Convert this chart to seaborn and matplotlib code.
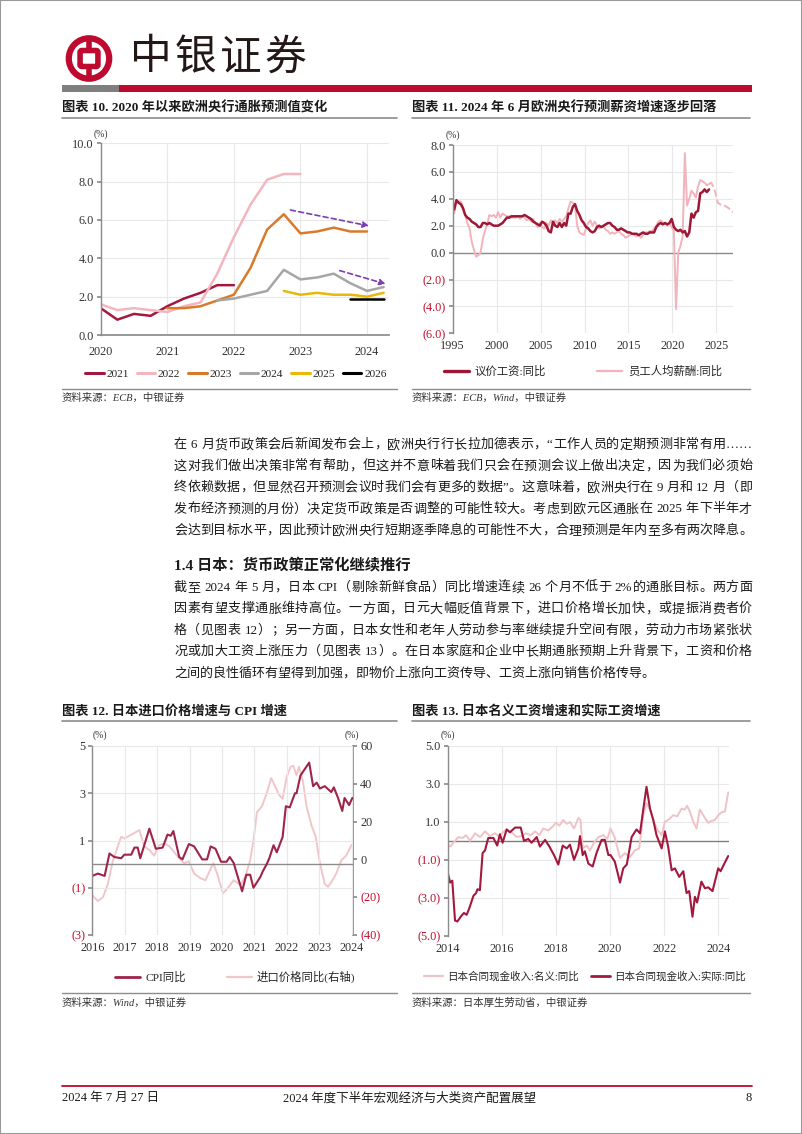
import re
import numpy as np
import matplotlib
matplotlib.use('Agg')
import matplotlib.pyplot as plt
import seaborn as sns
from matplotlib.patches import Rectangle, Circle, FancyBboxPatch
from matplotlib.lines import Line2D

nan = np.nan

# ---------------- DATA ----------------
# Chart 10: ECB inflation projections, by projection round
proj_dates = [2020.0, 2020.25, 2020.5, 2020.75, 2021.0, 2021.25, 2021.5, 2021.75, 2022.0,
              2022.25, 2022.5, 2022.75, 2023.0, 2023.25, 2023.5, 2023.75, 2024.0, 2024.25]
f2021 = [1.4, 0.8, 1.1, 1.0, 1.5, 1.9, 2.2, 2.6, 2.6, nan, nan, nan, nan, nan, nan, nan, nan, nan]
f2022 = [1.6, 1.3, 1.4, 1.3, 1.2, 1.5, 1.7, 3.2, 5.1, 6.8, 8.1, 8.4, 8.4, nan, nan, nan, nan, nan]
f2023 = [nan, nan, nan, nan, 1.4, 1.4, 1.5, 1.8, 2.1, 3.5, 5.5, 6.3, 5.3, 5.4, 5.6, 5.4, 5.4, nan]
f2024 = [nan, nan, nan, nan, nan, nan, nan, 1.8, 1.9, 2.1, 2.3, 3.4, 2.9, 3.0, 3.2, 2.7, 2.3, 2.5]
f2025 = [nan, nan, nan, nan, nan, nan, nan, nan, nan, nan, nan, 2.3, 2.1, 2.2, 2.1, 2.1, 2.0, 2.2]
f2026 = [nan, nan, nan, nan, nan, nan, nan, nan, nan, nan, nan, nan, nan, nan, nan, 1.9, 1.9, 1.9]
series10 = ['2021', '2022', '2023', '2024', '2025', '2026']
arrow1 = [(2022.85, 6.52), (2024.03, 5.69)]
arrow2 = [(2023.59, 3.36), (2024.28, 2.66)]

# Chart 11: euro area wages, quarterly from 1995Q1
negotiated = [3.2, 3.9, 3.7, 3.6, 3.3, 2.8, 2.6, 2.5, 2.3, 2.2, 2.1, 1.9, 1.9, 2.2, 2.2, 2.1,
              2.2, 2.1, 2.0, 2.0, 2.0, 2.1, 2.2, 2.4, 2.6, 2.6, 2.7, 2.7, 2.7, 2.7, 2.7, 2.7,
              2.8, 2.7, 2.6, 2.5, 2.3, 2.2, 2.1, 2.0, 2.3, 2.2, 2.0, 1.6, 1.5, 2.3, 2.0, 1.9,
              2.2, 1.9, 2.2, 2.0, 2.9, 2.9, 3.4, 3.6, 3.1, 2.8, 2.4, 2.2, 1.9, 1.8, 1.6, 1.5,
              1.6, 1.9, 2.0, 1.9, 2.0, 2.1, 2.2, 2.2, 2.0, 1.9, 1.7, 1.7, 1.8, 1.7, 1.6, 1.5,
              1.5, 1.4, 1.4, 1.4, 1.3, 1.4, 1.5, 1.4, 1.4, 1.5, 1.5, 1.5, 1.9, 2.1, 2.2, 2.1,
              2.2, 2.1, 2.2, 2.5, 1.9, 1.7, 1.6, 1.7, 1.5, 1.6, 1.2, 1.5, 2.9, 2.6, 3.0, 3.1,
              4.4, 4.5, 4.7, 4.5, 4.7]
comp_per_emp = [2.9, 3.9, 3.8, 3.8, 3.4, 2.8, 2.2, 1.8, 0.8, 0.2, -0.3, -0.2, 0.0, 1.0, 1.6, 2.1,
                2.8, 2.7, 2.8, 2.6, 3.0, 2.6, 2.9, 2.8, 2.7, 2.7, 2.6, 2.6, 2.6, 2.7, 2.5, 2.7,
                2.6, 2.4, 2.5, 2.3, 2.5, 2.2, 1.9, 2.2, 1.9, 1.8, 2.2, 2.0, 2.4, 2.2, 2.4, 2.2,
                2.5, 2.3, 2.5, 2.7, 3.3, 3.8, 3.7, 3.5, 2.0, 1.5, 1.4, 1.3, 1.8, 2.2, 2.4, 2.0,
                2.3, 2.0, 1.8, 1.9, 1.9, 1.7, 1.6, 1.4, 1.5, 1.4, 1.5, 1.6, 1.4, 1.3, 1.1, 1.2,
                1.3, 1.4, 1.3, 1.2, 1.3, 1.1, 1.3, 1.5, 1.5, 1.6, 1.6, 1.8, 2.0, 2.3, 2.4, 2.2,
                2.2, 2.0, 2.2, 1.9, 1.6, -4.2, 0.0, 0.5, 1.2, 7.4, 3.5, 4.0, 4.6, 4.4, 4.1, 4.9,
                5.4, 5.3, 5.2, 5.0, 5.1]
comp_proj_dates = [2024.17, 2024.42, 2024.67, 2024.92, 2025.17, 2025.42, 2025.67, 2025.92,
                   2026.17, 2026.42, 2026.67, 2026.92]
comp_proj = [5.1, 5.2, 4.9, 4.4, 3.7, 3.6, 3.5, 3.5, 3.4, 3.3, 3.1, 3.0]

# Chart 12: Japan CPI and import prices
cpi_t = [2016.0, 2016.17, 2016.38, 2016.53, 2016.68, 2016.89, 2016.99, 2017.2, 2017.3, 2017.4,
         2017.48, 2017.76, 2017.96, 2018.17, 2018.32, 2018.42, 2018.5, 2018.68, 2018.78, 2018.98,
         2019.14, 2019.39, 2019.54, 2019.65, 2019.8, 2019.97, 2020.14, 2020.24, 2020.36, 2020.62,
         2020.75, 2020.87, 2020.97, 2021.18, 2021.26, 2021.38, 2021.46, 2021.59, 2021.69, 2021.87,
         2021.97, 2022.09, 2022.25, 2022.3, 2022.42, 2022.69, 2022.81, 2022.92, 2023.02, 2023.17,
         2023.37, 2023.45, 2023.58, 2023.71, 2023.78, 2023.92, 2024.02]
cpi_v = [-0.5, -0.4, -0.5, 0.45, 0.3, 0.25, 0.4, 0.4, 0.7, 0.7, 0.25, 1.5, 0.65, 0.7, 1.25, 1.2,
         1.4, 0.3, 0.2, 0.85, 0.75, 0.2, 0.2, 0.75, 0.65, 0.1, 0.1, 0.3, 0.05, -1.15, -0.45, -0.45,
         -1.0, -0.55, -0.3, 0.0, 0.25, 0.8, 0.5, 1.15, 2.45, 2.4, 3.0, 3.0, 3.75, 4.3, 3.3, 3.45,
         3.2, 3.3, 3.05, 3.25, 2.8, 2.25, 2.8, 2.5, 2.8]
imp_t = [2016.0, 2016.17, 2016.33, 2016.48, 2016.63, 2016.79, 2016.89, 2016.99, 2017.09, 2017.3,
         2017.45, 2017.6, 2017.76, 2017.91, 2018.06, 2018.22, 2018.37, 2018.52, 2018.68, 2018.83,
         2018.98, 2019.14, 2019.34, 2019.49, 2019.73, 2019.85, 2020.03, 2020.21, 2020.36, 2020.57,
         2020.72, 2020.87, 2020.97, 2021.08, 2021.23, 2021.38, 2021.52, 2021.64, 2021.77, 2021.87,
         2022.0, 2022.12, 2022.2, 2022.3, 2022.37, 2022.49, 2022.61, 2022.76, 2022.89, 2023.02,
         2023.17, 2023.27, 2023.37, 2023.51, 2023.68, 2023.83, 2023.99, 2024.12]
imp_v = [-19, -22, -20, -13, -1, 7, 12, 11, 12, 14, 15.5, 7, 5, 2, 7.5, 8.5, 7, 4, 0.5, -2, -1,
         -7.5, -10, -11, -2, -7.5, -18, -14.5, -11, -13.5, -9, -0.5, 10, 25, 28, 35, 43, 38.5, 34,
         32, 44, 49, 49.5, 44.5, 49, 42, 28, 18, 12, -2, -13, -14.5, -12, -8, -0.5, 2, 7.5, 9]

# Chart 13: Japan contractual cash earnings
real_t = [2014.0, 2014.09, 2014.17, 2014.27, 2014.36, 2014.48, 2014.6, 2014.7, 2014.8, 2014.95,
          2015.05, 2015.1, 2015.19, 2015.29, 2015.38, 2015.5, 2015.69, 2015.83, 2015.93, 2016.03,
          2016.18, 2016.3, 2016.49, 2016.7, 2016.82, 2016.98, 2017.1, 2017.29, 2017.41, 2017.6,
          2017.76, 2017.93, 2018.09, 2018.25, 2018.4, 2018.52, 2018.67, 2018.83, 2018.89, 2018.99,
          2019.07, 2019.2, 2019.36, 2019.5, 2019.69, 2019.81, 2019.94, 2020.02, 2020.18, 2020.37,
          2020.49, 2020.62, 2020.8, 2020.98, 2021.11, 2021.23, 2021.35, 2021.48, 2021.6, 2021.72,
          2021.91, 2022.03, 2022.15, 2022.28, 2022.4, 2022.56, 2022.71, 2022.83, 2022.93, 2023.05,
          2023.14, 2023.22, 2023.38, 2023.51, 2023.63, 2023.79, 2024.0, 2024.09, 2024.21, 2024.37]
real_v = [-1.67, -2.2, -2.1, -4.2, -4.25, -4.0, -3.8, -3.9, -3.55, -2.9, -2.75, -2.55, -2.6, -0.65,
          -0.5, 0.15, 0.15, -0.25, 0.35, -0.1, 0.6, 0.45, 0.7, 0.7, 0.0, 0.1, -0.1, 0.2, -0.3, 0.05,
          -0.3, -0.75, -1.25, -0.25, -0.4, -0.2, -1.0, -0.4, 0.25, -0.75, -0.55, -1.2, -1.35, -0.65,
          0.05, 0.05, -0.75, -0.75, -1.1, -2.2, -1.45, -1.25, 0.2, 0.6, 0.4, 1.65, 2.85, 1.7, 1.1,
          0.3, -0.4, 0.5, -0.3, -1.55, -1.45, -1.9, -1.6, -2.75, -2.65, -4.0, -2.95, -3.25, -2.15,
          -2.5, -2.45, -2.65, -1.45, -1.6, -1.25, -0.8]
nom_t = [2014.0, 2014.09, 2014.21, 2014.39, 2014.55, 2014.68, 2014.83, 2015.01, 2015.19, 2015.38,
         2015.56, 2015.75, 2015.87, 2016.0, 2016.18, 2016.36, 2016.55, 2016.73, 2016.89, 2017.07,
         2017.23, 2017.39, 2017.53, 2017.72, 2017.88, 2018.0, 2018.13, 2018.27, 2018.4, 2018.52,
         2018.67, 2018.83, 2018.91, 2018.99, 2019.14, 2019.26, 2019.41, 2019.57, 2019.75, 2019.9,
         2020.02, 2020.18, 2020.37, 2020.55, 2020.74, 2020.92, 2021.08, 2021.23, 2021.35, 2021.48,
         2021.6, 2021.75, 2021.91, 2022.03, 2022.19, 2022.34, 2022.49, 2022.65, 2022.77, 2022.85,
         2022.95, 2023.08, 2023.2, 2023.32, 2023.47, 2023.63, 2023.75, 2023.88, 2024.0, 2024.12,
         2024.25, 2024.37]
nom_v = [-0.2, -0.3, -0.1, 0.2, 0.15, 0.3, 0.0, 0.4, 0.2, 0.5, 0.25, 0.4, 0.25, 0.4, 0.6, 0.45, 0.2,
         0.25, 0.4, 0.3, 0.5, 0.3, 0.65, 0.55, 0.75, 0.95, 0.8, 1.1, 0.9, 1.0, 0.65, 1.2, 1.1, -0.4,
         -0.25, -0.5, -0.1, 0.2, 0.3, 0.1, 0.65, 0.15, -0.9, -0.65, -0.85, -0.5, -0.4, 1.35, 2.0,
         1.65, 1.1, 0.6, 0.3, 1.0, 1.15, 1.35, 1.3, 1.7, 1.65, 1.85, 1.55, 1.0, 0.65, 1.65, 1.3,
         0.95, 1.05, 1.1, 1.35, 1.5, 1.55, 2.55]

# ---------------- STYLE ----------------
sns.set_theme(style='white')
FAM = ['Liberation Serif', 'Noto Sans CJK SC']
plt.rcParams['font.family'] = FAM
plt.rcParams['axes.unicode_minus'] = False

W, H = 802, 1134
fig = plt.figure(figsize=(W / 100, H / 100), dpi=100)
fig.patch.set_facecolor('white')
renderer = fig.canvas.get_renderer()

BRAND = '#BE0A2E'
LINEGRAY = '#8C8C8C'
GRID = '#E8E8E8'
AX = '#8C8C8C'
NEG = '#C0102E'
TXT = '#1A1A1A'


def fx(x):
    return x / W


def fy(y):
    return 1 - y / H


def add_ax(l, t, r, b):
    return fig.add_axes([fx(l), fy(b), fx(r) - fx(l), (b - t) / H])


def txt(x, y, s, size=9.5, ha='left', **kw):
    return fig.text(fx(x), fy(y), s, fontsize=size, va='center', ha=ha, **kw)


def justified(x0, x1, y, s, size=9.5, **kw):
    tokens = re.findall(r'[A-Za-z0-9%.]+| |.', s)
    arts, widths = [], []
    for tk in tokens:
        t = txt(x0, y, tk, size=size, **kw)
        w = t.get_window_extent(renderer).width if tk.strip() else size * 100 / 72 * 0.25
        arts.append(t)
        widths.append(w)
    gap = (x1 - x0 - sum(widths)) / max(len(tokens) - 1, 1)
    x = x0
    for t, w in zip(arts, widths):
        t.set_x(fx(x))
        x += w + gap


def hline(x0, x1, y, color, lw):
    fig.add_artist(Line2D([fx(x0), fx(x1)], [fy(y), fy(y)], color=color, lw=lw,
                          transform=fig.transFigure))


def rect(x0, y0, x1, y1, color):
    fig.add_artist(Rectangle((fx(x0), fy(y1)), fx(x1) - fx(x0), (y1 - y0) / H,
                             transform=fig.transFigure, color=color, lw=0))


def style_ax(ax, xt, yt, ylabels, xlim, ylim, bottom_spine=True):
    ax.set_xlim(*xlim)
    ax.set_ylim(*ylim)
    ax.set_xticks(xt)
    ax.set_xticklabels([str(v) for v in xt], fontsize=8.8, color='#333333')
    ax.set_yticks(yt)
    ax.set_yticklabels(ylabels, fontsize=8.8)
    for lab, v in zip(ax.get_yticklabels(), yt):
        lab.set_color(NEG if v < 0 else '#333333')
    ax.grid(True, color=GRID, lw=0.8)
    ax.set_axisbelow(True)
    for s in ['top', 'right']:
        ax.spines[s].set_visible(False)
    ax.spines['left'].set_color(AX)
    ax.spines['left'].set_linewidth(1.0)
    ax.spines['bottom'].set_visible(bottom_spine)
    ax.spines['bottom'].set_color(AX)
    ax.tick_params(axis='y', length=3, color=AX, pad=2, left=True)
    ax.tick_params(axis='x', length=0, pad=5)
    ax.set_xlabel('')
    ax.set_ylabel('')
    ax.set_facecolor('white')


# ---------------- PAGE FRAME / HEADER ----------------
fig.add_artist(Rectangle((0, 0), 1, 1, transform=fig.transFigure, fill=False,
                         edgecolor='#9A9A9A', lw=1.5))

lax = fig.add_axes([fx(64), fy(82), fx(114) - fx(64), 47 / H])
lax.set_xlim(-1, 1)
lax.set_ylim(-1, 1)
lax.set_aspect('equal')
lax.axis('off')
lax.add_patch(Circle((0, 0), 0.86, fill=False, lw=4.5, color=BRAND))
lax.add_patch(FancyBboxPatch((-0.3, -0.26), 0.6, 0.52, boxstyle='round,pad=0.08',
                             fill=False, lw=4, color=BRAND))
lax.plot([0, 0], [0.34, 0.86], color=BRAND, lw=4, solid_capstyle='butt')
lax.plot([0, 0], [-0.34, -0.86], color=BRAND, lw=4, solid_capstyle='butt')

justified(130, 306, 58, '中银证券', size=30, color='#231815', family=['Noto Sans CJK SC'])
rect(62, 85, 119, 92, '#7F7F7F')
rect(119, 85, 752, 92, BRAND)

# ---------------- TITLES ----------------
txt(62, 108, '图表 10. 2020 年以来欧洲央行通胀预测值变化', size=9.5, weight='bold', color=TXT)
txt(412, 108, '图表 11. 2024 年 6 月欧洲央行预测薪资增速逐步回落', size=9.5, weight='bold', color=TXT)
hline(62, 397, 118, LINEGRAY, 1.2)
hline(412, 750, 118, LINEGRAY, 1.2)

txt(62, 711, '图表 12. 日本进口价格增速与 CPI 增速', size=9.5, weight='bold', color=TXT)
txt(412, 711, '图表 13. 日本名义工资增速和实际工资增速', size=9.5, weight='bold', color=TXT)
hline(62, 397, 721, LINEGRAY, 1.2)
hline(412, 750, 721, LINEGRAY, 1.2)

# ---------------- CHART 10 ----------------
ax10 = add_ax(100.7, 143.3, 389, 335)
cols10 = ['#A3183F', '#F4B6BE', '#D97A2B', '#A6A6A6', '#E8B90A', '#000000']
vals10 = [f2021, f2022, f2023, f2024, f2025, f2026]
for name, vals, c in zip(series10, vals10, cols10):
    x = np.array(proj_dates)
    y = np.array(vals, dtype=float)
    m = ~np.isnan(y)
    sns.lineplot(x=x[m], y=y[m], ax=ax10, color=c, lw=1.8, label=name, legend=False)
style_ax(ax10, [2020, 2021, 2022, 2023, 2024], [0, 2, 4, 6, 8, 10],
         ['0.0', '2.0', '4.0', '6.0', '8.0', '10.0'], (2020, 2024.33), (0, 10))
ax10.tick_params(axis='x', length=3, color=AX)
for a in (arrow1, arrow2):
    ax10.annotate('', xy=a[1], xytext=a[0],
                  arrowprops=dict(arrowstyle='-|>', linestyle=(0, (3, 2)), color='#7B3FB0',
                                  lw=1.2, mutation_scale=9, shrinkA=0, shrinkB=0))
txt(94, 134, '(%)', size=7, color='#333333')
h10 = [Line2D([], [], color=c, lw=2.2) for c in cols10]
fig.legend(h10, series10, loc='center', bbox_to_anchor=(fx(236), fy(374)), ncol=6,
           frameon=False, fontsize=8.2, handlelength=1.6, handletextpad=0.25, columnspacing=0.7)

# ---------------- CHART 11 ----------------
ax11 = add_ax(452.7, 145, 733, 333.3)
q_dates = 1995.17 + 0.25 * np.arange(len(negotiated))
sns.lineplot(x=q_dates, y=comp_per_emp, ax=ax11, color='#F2B3BB', lw=1.4)
sns.lineplot(x=comp_proj_dates, y=comp_proj, ax=ax11, color='#F2B3BB', lw=1.4, linestyle='--')
sns.lineplot(x=q_dates, y=negotiated, ax=ax11, color='#9E1836', lw=1.8)
style_ax(ax11, [1995, 2000, 2005, 2010, 2015, 2020, 2025], [-6, -4, -2, 0, 2, 4, 6, 8],
         ['(6.0)', '(4.0)', '(2.0)', '0.0', '2.0', '4.0', '6.0', '8.0'], (1995, 2026.9), (-6, 8),
         bottom_spine=False)
ax11.axhline(0, color=AX, lw=1.0, zorder=1.5)
txt(446, 135, '(%)', size=7, color='#333333')
h11 = [Line2D([], [], color='#9E1836', lw=2.4), Line2D([], [], color='#F2B3BB', lw=1.6)]
fig.legend(h11, ['议价工资:同比', '员工人均薪酬:同比'], loc='center',
           bbox_to_anchor=(fx(583), fy(371)), ncol=2, frameon=False, fontsize=8.2,
           handlelength=2.2, handletextpad=0.5, columnspacing=4.5)

txt(62, 398, '资料来源：ECB，中银证券', size=7.5, style='italic', color='#333333')
txt(412, 398, '资料来源：ECB，Wind，中银证券', size=7.5, style='italic', color='#333333')
hline(62, 397, 389, LINEGRAY, 1.0)
hline(412, 750, 389, LINEGRAY, 1.0)

# ---------------- BODY TEXT ----------------
para1 = [
    '在 6 月货币政策会后新闻发布会上，欧洲央行行长拉加德表示，“工作人员的定期预测非常有用……',
    '这对我们做出决策非常有帮助，但这并不意味着我们只会在预测会议上做出决定，因为我们必须始',
    '终依赖数据，但显然召开预测会议时我们会有更多的数据”。这意味着，欧洲央行在 9 月和 12 月（即',
    '发布经济预测的月份）决定货币政策是否调整的可能性较大。考虑到欧元区通胀在 2025 年下半年才',
    '会达到目标水平，因此预计欧洲央行短期逐季降息的可能性不大，合理预测是年内至多有两次降息。',
]
para2 = [
    '截至 2024 年 5 月，日本 CPI（剔除新鲜食品）同比增速连续 26 个月不低于 2%的通胀目标。两方面',
    '因素有望支撑通胀维持高位。一方面，日元大幅贬值背景下，进口价格增长加快，或提振消费者价',
    '格（见图表 12）；另一方面，日本女性和老年人劳动参与率继续提升空间有限，劳动力市场紧张状',
    '况或加大工资上涨压力（见图表 13）。在日本家庭和企业中长期通胀预期上升背景下，工资和价格',
    '之间的良性循环有望得到加强，即物价上涨向工资传导、工资上涨向销售价格传导。',
]
for i, s in enumerate(para1):
    justified(174, 752, 445 + i * 21.5, s, size=9.4, color=TXT)
txt(174, 565, '1.4 日本：货币政策正常化继续推行', size=11, weight='bold', color=TXT)
for i, s in enumerate(para2):
    yy = 588 + i * 21.3
    if i < len(para2) - 1:
        justified(174, 752, yy, s, size=9.4, color=TXT)
    else:
        txt(174, yy, s, size=9.4, color=TXT)

# ---------------- CHART 12 ----------------
ax12 = add_ax(92.3, 746, 353.3, 935)
ax12r = ax12.twinx()
sns.lineplot(x=imp_t, y=imp_v, ax=ax12r, color='#F0C6CB', lw=1.4)
sns.lineplot(x=cpi_t, y=cpi_v, ax=ax12, color='#9E2449', lw=1.5)
ax12.set_zorder(ax12r.get_zorder() + 1)
ax12.patch.set_visible(False)
style_ax(ax12, list(range(2016, 2025)), [-3, -1, 1, 3, 5], ['(3)', '(1)', '1', '3', '5'],
         (2016, 2024.05), (-3, 5), bottom_spine=False)
ax12.axhline(0, color=AX, lw=1.0, zorder=1.5)
ax12r.set_ylim(-40, 60)
ax12r.set_yticks([-40, -20, 0, 20, 40, 60])
ax12r.set_yticklabels(['(40)', '(20)', '0', '20', '40', '60'], fontsize=8.8)
for lab, v in zip(ax12r.get_yticklabels(), [-40, -20, 0, 20, 40, 60]):
    lab.set_color(NEG if v < 0 else '#333333')
ax12r.grid(False)
for s in ['top', 'left', 'bottom']:
    ax12r.spines[s].set_visible(False)
ax12r.spines['right'].set_color(AX)
ax12r.tick_params(axis='y', length=3, color=AX, pad=2, right=True)
ax12r.set_ylabel('')
ax12.spines['right'].set_visible(False)
txt(93, 735, '(%)', size=7, color='#333333')
txt(345, 735, '(%)', size=7, color='#333333')
h12 = [Line2D([], [], color='#9E2449', lw=2.0), Line2D([], [], color='#F0C6CB', lw=1.6)]
fig.legend(h12, ['CPI同比', '进口价格同比(右轴)'], loc='center',
           bbox_to_anchor=(fx(235), fy(977)), ncol=2, frameon=False, fontsize=8.2,
           handlelength=2.2, handletextpad=0.4, columnspacing=3.6)

# ---------------- CHART 13 ----------------
ax13 = add_ax(447.7, 746, 729, 935.7)
sns.lineplot(x=nom_t, y=nom_v, ax=ax13, color='#F0C2C7', lw=1.4)
sns.lineplot(x=real_t, y=real_v, ax=ax13, color='#A3193E', lw=1.5)
style_ax(ax13, [2014, 2016, 2018, 2020, 2022, 2024], [-5, -3, -1, 1, 3, 5],
         ['(5.0)', '(3.0)', '(1.0)', '1.0', '3.0', '5.0'], (2014, 2024.4), (-5, 5),
         bottom_spine=False)
ax13.axhline(0, color='#7F7F7F', lw=1.0, zorder=1.5)
txt(441, 735, '(%)', size=7, color='#333333')
h13 = [Line2D([], [], color='#F0C2C7', lw=1.6), Line2D([], [], color='#A3193E', lw=2.0)]
fig.legend(h13, ['日本合同现金收入:名义:同比', '日本合同现金收入:实际:同比'], loc='center',
           bbox_to_anchor=(fx(585), fy(976)), ncol=2, frameon=False, fontsize=7.6,
           handlelength=1.8, handletextpad=0.35, columnspacing=1.2)

hline(62, 397, 993, LINEGRAY, 1.0)
hline(412, 750, 993, LINEGRAY, 1.0)
txt(62, 1003, '资料来源：Wind，中银证券', size=7.5, style='italic', color='#333333')
txt(412, 1003, '资料来源：日本厚生劳动省，中银证券', size=7.5, style='italic', color='#333333')

# ---------------- FOOTER ----------------
hline(62, 752, 1086, BRAND, 1.3)
txt(62, 1098, '2024 年 7 月 27 日', size=9, color=TXT)
txt(410, 1098, '2024 年度下半年宏观经济与大类资产配置展望', size=9, ha='center', color=TXT)
txt(752, 1098, '8', size=9, ha='right', color=TXT)

fig.savefig('out.png', dpi=100, facecolor='white')
